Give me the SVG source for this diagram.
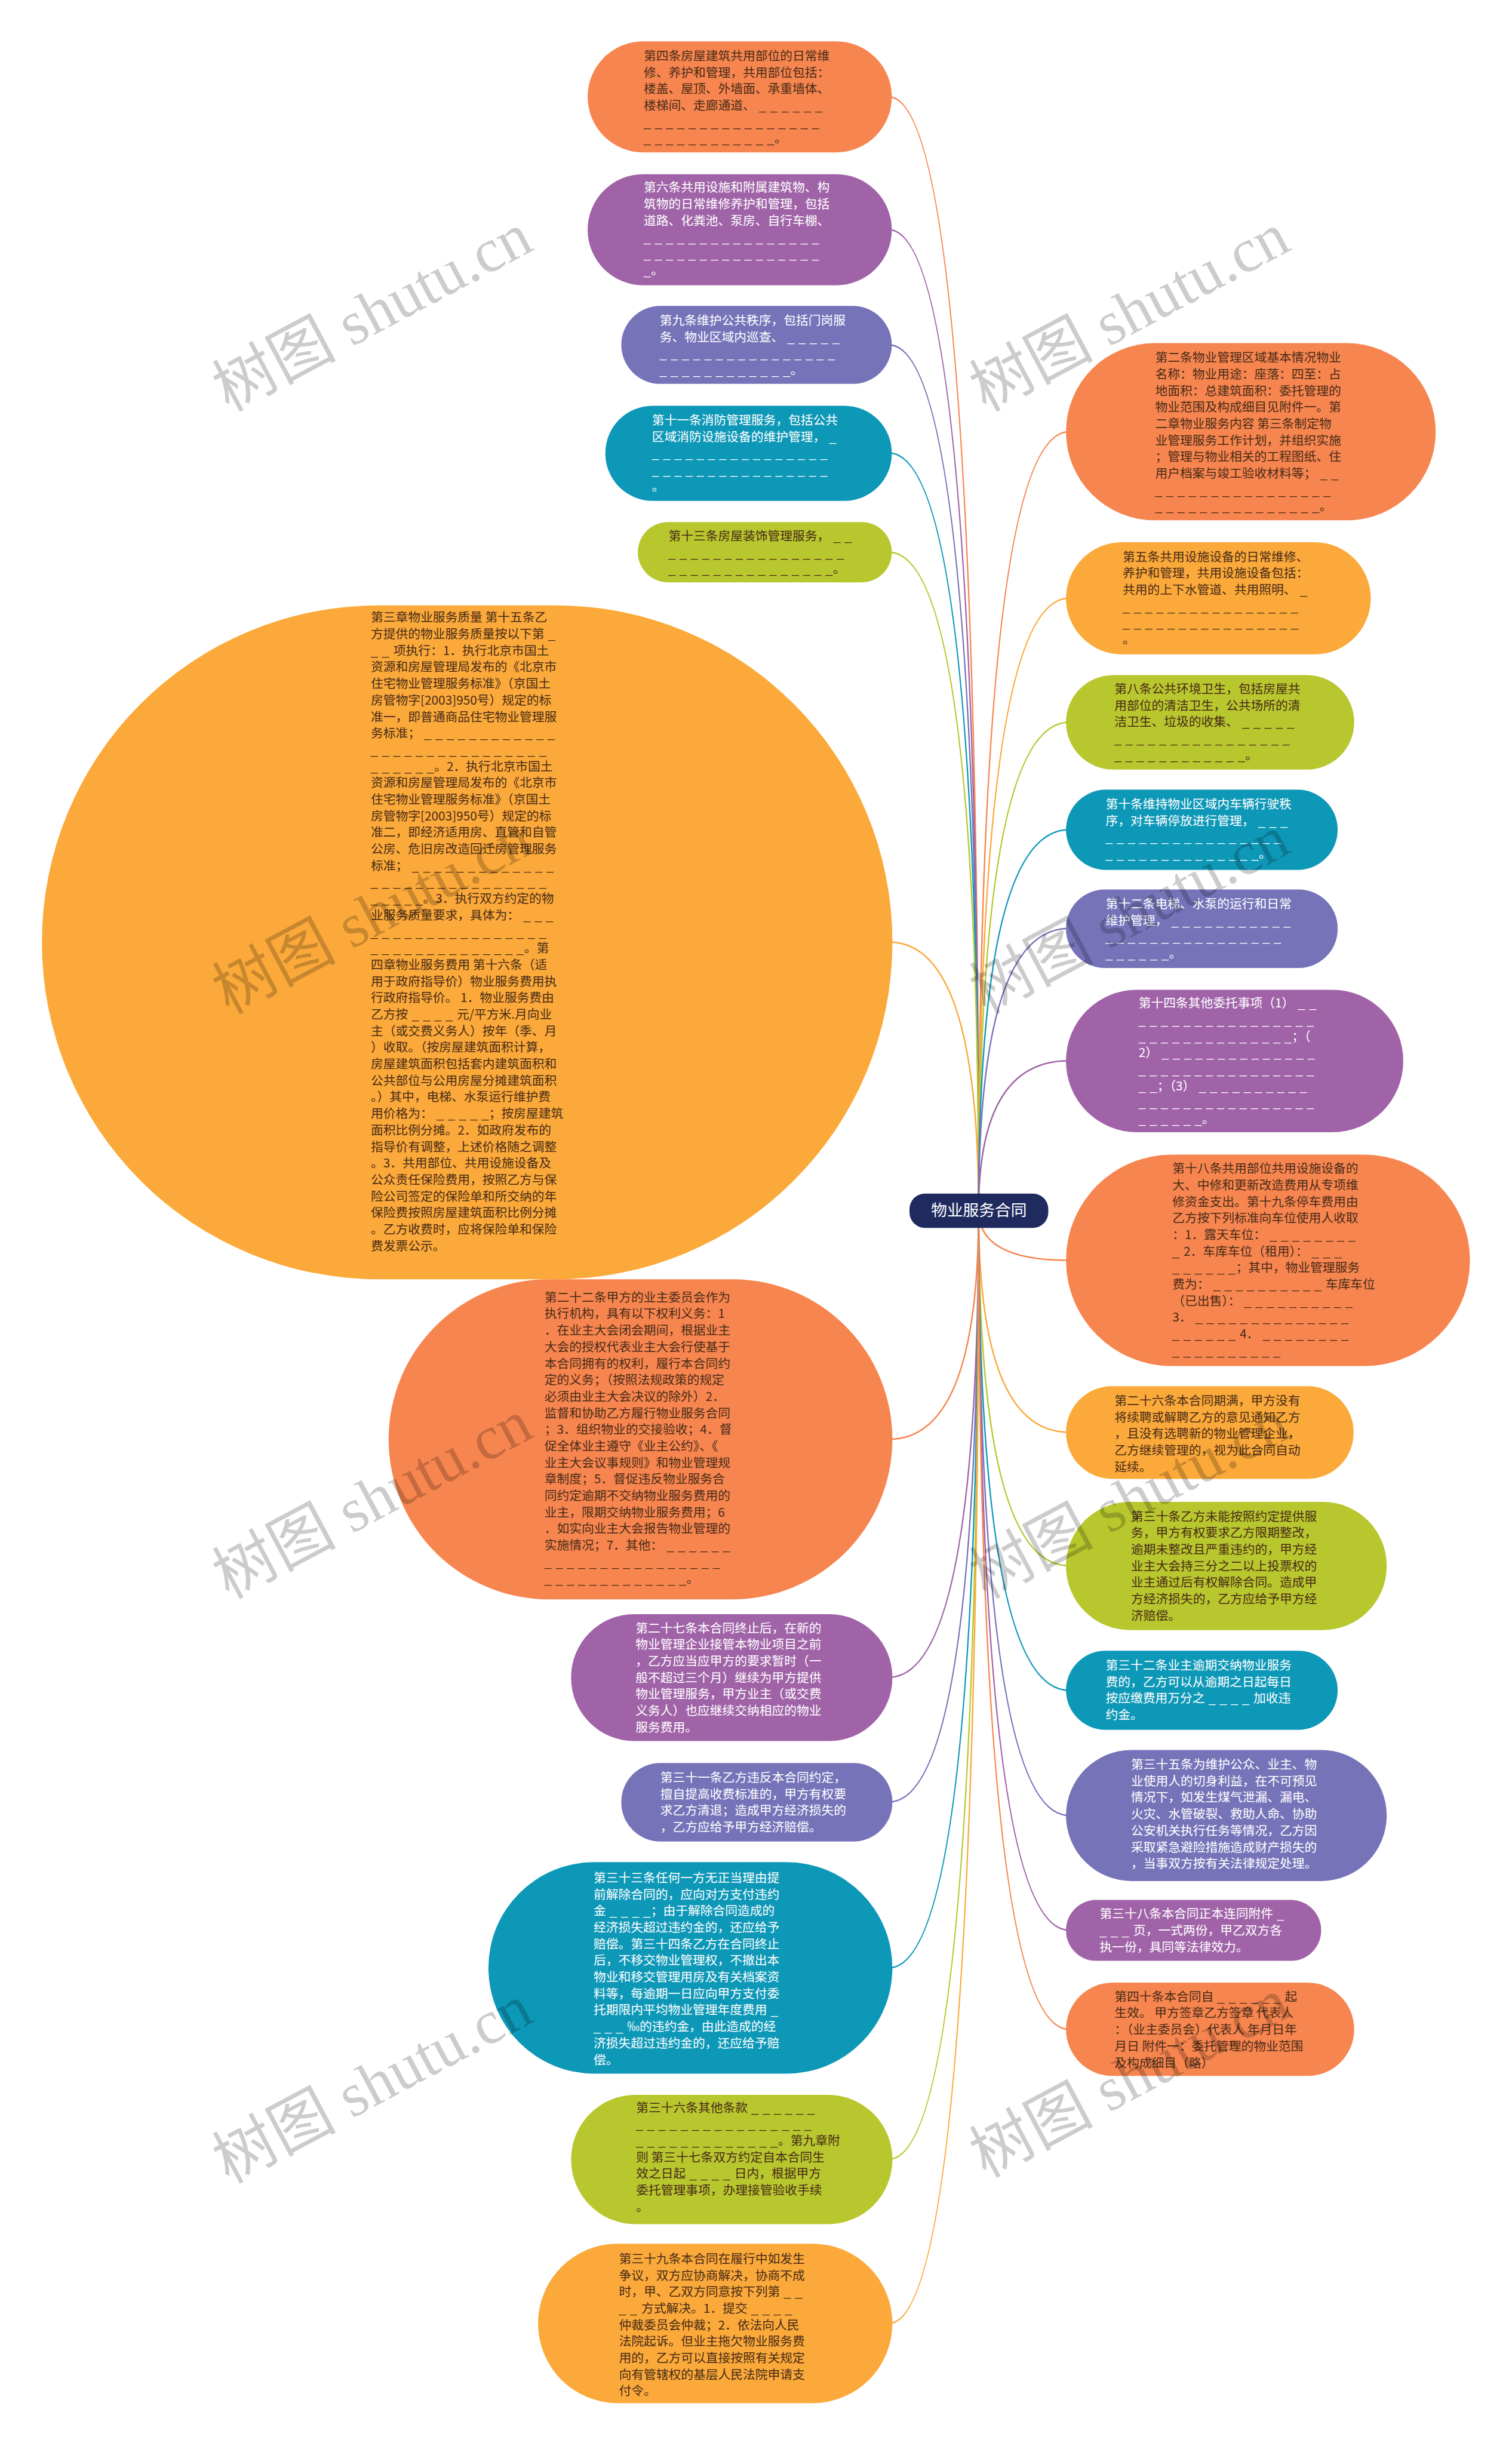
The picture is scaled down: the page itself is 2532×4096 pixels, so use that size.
<svg xmlns="http://www.w3.org/2000/svg" width="2532" height="4096" viewBox="0 0 2532 4096">
<style>
.t{font-family:"Noto Sans CJK SC","Noto Sans",sans-serif;font-size:21px}
.dk{fill:#4a2c17}
.wt{fill:#ffffff}
.d{font-family:"Liberation Sans",sans-serif;letter-spacing:0.75px}
.o{fill:#F7854F}
.p{fill:#A063A8}
.i{fill:#7673B9}
.c{fill:#0E98B8}
.l{fill:#B8C72E}
.y{fill:#FBA93A}
.k{fill:none;stroke-width:2.5}
.ko{stroke:#F7854F}.kp{stroke:#A063A8}.ki{stroke:#7673B9}.kc{stroke:#0E98B8}.kl{stroke:#B8C72E}.ky{stroke:#FBA93A}
</style>
<rect width="2532" height="4096" fill="#ffffff"/>
<g transform="scale(0.989)">
<g id="connectors">
<path class="k ko" d="M1657,2050 Q1657,164 1505,164"/>
<path class="k kp" d="M1657,2050 Q1657,389 1505,389"/>
<path class="k ki" d="M1657,2050 Q1657,584 1505,584"/>
<path class="k kc" d="M1657,2050 Q1657,767 1505,767"/>
<path class="k kl" d="M1657,2050 Q1657,935 1505,935"/>
<path class="k ky" d="M1657,2050 Q1657,1595 1505,1595"/>
<path class="k ko" d="M1657,2050 Q1657,2437 1505,2437"/>
<path class="k kp" d="M1657,2050 Q1657,2840 1505,2840"/>
<path class="k ki" d="M1657,2050 Q1657,3051 1505,3051"/>
<path class="k kc" d="M1657,2050 Q1657,3332 1505,3332"/>
<path class="k kl" d="M1657,2050 Q1657,3656 1505,3656"/>
<path class="k ky" d="M1657,2050 Q1657,3934 1505,3934"/>
<path class="k ko" d="M1657,2050 Q1657,731 1810,731"/>
<path class="k ky" d="M1657,2050 Q1657,1013 1810,1013"/>
<path class="k kl" d="M1657,2050 Q1657,1223 1810,1223"/>
<path class="k kc" d="M1657,2050 Q1657,1405 1810,1405"/>
<path class="k ki" d="M1657,2050 Q1657,1572 1810,1572"/>
<path class="k kp" d="M1657,2050 Q1657,1796 1810,1796"/>
<path class="k ko" d="M1657,2050 Q1657,2134 1810,2134"/>
<path class="k ky" d="M1657,2050 Q1657,2425 1810,2425"/>
<path class="k kl" d="M1657,2050 Q1657,2651 1810,2651"/>
<path class="k kc" d="M1657,2050 Q1657,2862 1810,2862"/>
<path class="k ki" d="M1657,2050 Q1657,3074 1810,3074"/>
<path class="k kp" d="M1657,2050 Q1657,3268 1810,3268"/>
<path class="k ko" d="M1657,2050 Q1657,3436 1810,3436"/>
</g>

<g id="L1">
<rect class="o" x="995" y="70" width="515" height="188" rx="94"/>
<text class="t dk"><tspan x="1090" y="102">第四条房屋建筑共用部位的日常维</tspan><tspan x="1090" dy="28">修、养护和管理，共用部位包括：</tspan><tspan x="1090" dy="28">楼盖、屋顶、外墙面、承重墙体、</tspan><tspan x="1090" dy="28">楼梯间、走廊通道、<tspan class="d"> _ _ _ _ _ _</tspan></tspan><tspan x="1090" dy="28" class="d">_ _ _ _ _ _ _ _ _ _ _ _ _ _ _ _</tspan><tspan x="1090" dy="28"><tspan class="d">_ _ _ _ _ _ _ _ _ _ _ _</tspan>。</tspan></text>
</g>

<g id="L2">
<rect class="p" x="995" y="295" width="515" height="188" rx="94"/>
<text class="t wt"><tspan x="1090" y="325">第六条共用设施和附属建筑物、构</tspan><tspan x="1090" dy="28">筑物的日常维修养护和管理，包括</tspan><tspan x="1090" dy="28">道路、化粪池、泵房、自行车棚、</tspan><tspan x="1090" dy="28" class="d">_ _ _ _ _ _ _ _ _ _ _ _ _ _ _ _</tspan><tspan x="1090" dy="28" class="d">_ _ _ _ _ _ _ _ _ _ _ _ _ _ _ _</tspan><tspan x="1090" dy="28"><tspan class="d">_</tspan>。</tspan></text>
</g>

<g id="L3">
<rect class="i" x="1052" y="518" width="458" height="132" rx="66"/>
<text class="t wt"><tspan x="1117" y="550">第九条维护公共秩序，包括门岗服</tspan><tspan x="1117" dy="28">务、物业区域内巡查、<tspan class="d"> _ _ _ _ _</tspan></tspan><tspan x="1117" dy="28" class="d">_ _ _ _ _ _ _ _ _ _ _ _ _ _ _ _</tspan><tspan x="1117" dy="28"><tspan class="d">_ _ _ _ _ _ _ _ _ _ _ _</tspan>。</tspan></text>
</g>

<g id="L4">
<rect class="c" x="1025" y="687" width="485" height="161" rx="80"/>
<text class="t wt"><tspan x="1104" y="719">第十一条消防管理服务，包括公共</tspan><tspan x="1104" dy="28">区域消防设施设备的维护管理，<tspan class="d"> _</tspan></tspan><tspan x="1104" dy="28" class="d">_ _ _ _ _ _ _ _ _ _ _ _ _ _ _ _</tspan><tspan x="1104" dy="28" class="d">_ _ _ _ _ _ _ _ _ _ _ _ _ _ _ _</tspan><tspan x="1104" dy="28">。</tspan></text>
</g>

<g id="L5">
<rect class="l" x="1080" y="884" width="430" height="102" rx="51"/>
<text class="t dk"><tspan x="1132" y="915">第十三条房屋装饰管理服务，<tspan class="d"> _ _</tspan></tspan><tspan x="1132" dy="28" class="d">_ _ _ _ _ _ _ _ _ _ _ _ _ _ _ _</tspan><tspan x="1132" dy="28"><tspan class="d">_ _ _ _ _ _ _ _ _ _ _ _ _ _ _</tspan>。</tspan></text>
</g>

<g id="L6">
<rect class="y" x="71" y="1025" width="1440" height="1141" rx="570"/>
<text class="t dk"><tspan x="628" y="1053">第三章物业服务质量 第十五条乙</tspan><tspan x="628" dy="28">方提供的物业服务质量按以下第<tspan class="d"> _</tspan></tspan><tspan x="628" dy="28"><tspan class="d">_ _ </tspan>项执行：1．执行北京市国土</tspan><tspan x="628" dy="28">资源和房屋管理局发布的《北京市</tspan><tspan x="628" dy="28">住宅物业管理服务标准》（京国土</tspan><tspan x="628" dy="28">房管物字[2003]950号）规定的标</tspan><tspan x="628" dy="28">准一，即普通商品住宅物业管理服</tspan><tspan x="628" dy="28">务标准；<tspan class="d"> _ _ _ _ _ _ _ _ _ _ _ _</tspan></tspan><tspan x="628" dy="28" class="d">_ _ _ _ _ _ _ _ _ _ _ _ _ _ _ _</tspan><tspan x="628" dy="28"><tspan class="d">_ _ _ _ _ _</tspan>。2．执行北京市国土</tspan><tspan x="628" dy="28">资源和房屋管理局发布的《北京市</tspan><tspan x="628" dy="28">住宅物业管理服务标准》（京国土</tspan><tspan x="628" dy="28">房管物字[2003]950号）规定的标</tspan><tspan x="628" dy="28">准二，即经济适用房、直管和自管</tspan><tspan x="628" dy="28">公房、危旧房改造回迁房管理服务</tspan><tspan x="628" dy="28">标准；<tspan class="d"> _ _ _ _ _ _ _ _ _ _ _ _ _</tspan></tspan><tspan x="628" dy="28" class="d">_ _ _ _ _ _ _ _ _ _ _ _ _ _ _ _</tspan><tspan x="628" dy="28"><tspan class="d">_ _ _ _ _</tspan>。3．执行双方约定的物</tspan><tspan x="628" dy="28">业服务质量要求，具体为：<tspan class="d"> _ _ _</tspan></tspan><tspan x="628" dy="28" class="d">_ _ _ _ _ _ _ _ _ _ _ _ _ _ _ _</tspan><tspan x="628" dy="28"><tspan class="d">_ _ _ _ _ _ _ _ _ _ _ _ _ _</tspan>。第</tspan><tspan x="628" dy="28">四章物业服务费用 第十六条（适</tspan><tspan x="628" dy="28">用于政府指导价）物业服务费用执</tspan><tspan x="628" dy="28">行政府指导价。 1．物业服务费由</tspan><tspan x="628" dy="28">乙方按<tspan class="d"> _ _ _ _ </tspan>元/平方米.月向业</tspan><tspan x="628" dy="28">主（或交费义务人）按年（季、月</tspan><tspan x="628" dy="28">）收取。（按房屋建筑面积计算，</tspan><tspan x="628" dy="28">房屋建筑面积包括套内建筑面积和</tspan><tspan x="628" dy="28">公共部位与公用房屋分摊建筑面积</tspan><tspan x="628" dy="28">。）其中，电梯、水泵运行维护费</tspan><tspan x="628" dy="28">用价格为：<tspan class="d"> _ _ _ _ _</tspan>；按房屋建筑</tspan><tspan x="628" dy="28">面积比例分摊。2．如政府发布的</tspan><tspan x="628" dy="28">指导价有调整，上述价格随之调整</tspan><tspan x="628" dy="28">。3．共用部位、共用设施设备及</tspan><tspan x="628" dy="28">公众责任保险费用，按照乙方与保</tspan><tspan x="628" dy="28">险公司签定的保险单和所交纳的年</tspan><tspan x="628" dy="28">保险费按照房屋建筑面积比例分摊</tspan><tspan x="628" dy="28">。乙方收费时，应将保险单和保险</tspan><tspan x="628" dy="28">费发票公示。</tspan></text>
</g>

<g id="L7">
<rect class="o" x="658" y="2166" width="853" height="542" rx="271"/>
<text class="t dk"><tspan x="922" y="2204">第二十二条甲方的业主委员会作为</tspan><tspan x="922" dy="28">执行机构，具有以下权利义务：1</tspan><tspan x="922" dy="28">．在业主大会闭会期间，根据业主</tspan><tspan x="922" dy="28">大会的授权代表业主大会行使基于</tspan><tspan x="922" dy="28">本合同拥有的权利，履行本合同约</tspan><tspan x="922" dy="28">定的义务；（按照法规政策的规定</tspan><tspan x="922" dy="28">必须由业主大会决议的除外）2．</tspan><tspan x="922" dy="28">监督和协助乙方履行物业服务合同</tspan><tspan x="922" dy="28">；3．组织物业的交接验收；4．督</tspan><tspan x="922" dy="28">促全体业主遵守《业主公约》、《</tspan><tspan x="922" dy="28">业主大会议事规则》和物业管理规</tspan><tspan x="922" dy="28">章制度；5．督促违反物业服务合</tspan><tspan x="922" dy="28">同约定逾期不交纳物业服务费用的</tspan><tspan x="922" dy="28">业主，限期交纳物业服务费用；6</tspan><tspan x="922" dy="28">．如实向业主大会报告物业管理的</tspan><tspan x="922" dy="28">实施情况；7．其他：<tspan class="d"> _ _ _ _ _ _</tspan></tspan><tspan x="922" dy="28" class="d">_ _ _ _ _ _ _ _ _ _ _ _ _ _ _ _</tspan><tspan x="922" dy="28"><tspan class="d">_ _ _ _ _ _ _ _ _ _ _ _ _</tspan>。</tspan></text>
</g>

<g id="L8">
<rect class="p" x="967" y="2733" width="544" height="215" rx="107"/>
<text class="t wt"><tspan x="1076" y="2764">第二十七条本合同终止后，在新的</tspan><tspan x="1076" dy="28">物业管理企业接管本物业项目之前</tspan><tspan x="1076" dy="28">，乙方应当应甲方的要求暂时（一</tspan><tspan x="1076" dy="28">般不超过三个月）继续为甲方提供</tspan><tspan x="1076" dy="28">物业管理服务，甲方业主（或交费</tspan><tspan x="1076" dy="28">义务人）也应继续交纳相应的物业</tspan><tspan x="1076" dy="28">服务费用。</tspan></text>
</g>

<g id="L9">
<rect class="i" x="1052" y="2985" width="459" height="133" rx="66"/>
<text class="t wt"><tspan x="1118" y="3017">第三十一条乙方违反本合同约定，</tspan><tspan x="1118" dy="28">擅自提高收费标准的，甲方有权要</tspan><tspan x="1118" dy="28">求乙方清退；造成甲方经济损失的</tspan><tspan x="1118" dy="28">，乙方应给予甲方经济赔偿。</tspan></text>
</g>

<g id="L10">
<rect class="c" x="827" y="3153" width="684" height="358" rx="179"/>
<text class="t wt"><tspan x="1005" y="3187">第三十三条任何一方无正当理由提</tspan><tspan x="1005" dy="28">前解除合同的，应向对方支付违约</tspan><tspan x="1005" dy="28">金<tspan class="d"> _ _ _ _</tspan>；由于解除合同造成的</tspan><tspan x="1005" dy="28">经济损失超过违约金的，还应给予</tspan><tspan x="1005" dy="28">赔偿。第三十四条乙方在合同终止</tspan><tspan x="1005" dy="28">后，不移交物业管理权，不撤出本</tspan><tspan x="1005" dy="28">物业和移交管理用房及有关档案资</tspan><tspan x="1005" dy="28">料等，每逾期一日应向甲方支付委</tspan><tspan x="1005" dy="28">托期限内平均物业管理年度费用<tspan class="d"> _</tspan></tspan><tspan x="1005" dy="28"><tspan class="d">_ _ _ </tspan>‰的违约金，由此造成的经</tspan><tspan x="1005" dy="28">济损失超过违约金的，还应给予赔</tspan><tspan x="1005" dy="28">偿。</tspan></text>
</g>

<g id="L11">
<rect class="l" x="967" y="3547" width="544" height="219" rx="109"/>
<text class="t dk"><tspan x="1077" y="3576">第三十六条其他条款<tspan class="d"> _ _ _ _ _ _</tspan></tspan><tspan x="1077" dy="28" class="d">_ _ _ _ _ _ _ _ _ _ _ _ _ _ _ _</tspan><tspan x="1077" dy="28"><tspan class="d">_ _ _ _ _ _ _ _ _ _ _ _ _</tspan>。第九章附</tspan><tspan x="1077" dy="28">则 第三十七条双方约定自本合同生</tspan><tspan x="1077" dy="28">效之日起<tspan class="d"> _ _ _ _ </tspan>日内，根据甲方</tspan><tspan x="1077" dy="28">委托管理事项，办理接管验收手续</tspan><tspan x="1077" dy="28">。</tspan></text>
</g>

<g id="L12">
<rect class="y" x="911" y="3799" width="600" height="270" rx="135"/>
<text class="t dk"><tspan x="1048" y="3832">第三十九条本合同在履行中如发生</tspan><tspan x="1048" dy="28">争议，双方应协商解决，协商不成</tspan><tspan x="1048" dy="28">时，甲、乙双方同意按下列第<tspan class="d"> _ _</tspan></tspan><tspan x="1048" dy="28"><tspan class="d">_ _ </tspan>方式解决。1．提交<tspan class="d"> _ _ _ _</tspan></tspan><tspan x="1048" dy="28">仲裁委员会仲裁；2．依法向人民</tspan><tspan x="1048" dy="28">法院起诉。但业主拖欠物业服务费</tspan><tspan x="1048" dy="28">用的，乙方可以直接按照有关规定</tspan><tspan x="1048" dy="28">向有管辖权的基层人民法院申请支</tspan><tspan x="1048" dy="28">付令。</tspan></text>
</g>

<g id="R1">
<rect class="o" x="1805" y="581" width="626" height="300" rx="150"/>
<text class="t dk"><tspan x="1956" y="613">第二条物业管理区域基本情况物业</tspan><tspan x="1956" dy="28">名称：物业用途：座落：四至：占</tspan><tspan x="1956" dy="28">地面积：总建筑面积：委托管理的</tspan><tspan x="1956" dy="28">物业范围及构成细目见附件一。第</tspan><tspan x="1956" dy="28">二章物业服务内容 第三条制定物</tspan><tspan x="1956" dy="28">业管理服务工作计划，并组织实施</tspan><tspan x="1956" dy="28">；管理与物业相关的工程图纸、住</tspan><tspan x="1956" dy="28">用户档案与竣工验收材料等；<tspan class="d"> _ _</tspan></tspan><tspan x="1956" dy="28" class="d">_ _ _ _ _ _ _ _ _ _ _ _ _ _ _ _</tspan><tspan x="1956" dy="28"><tspan class="d">_ _ _ _ _ _ _ _ _ _ _ _ _ _ _</tspan>。</tspan></text>
</g>

<g id="R2">
<rect class="y" x="1805" y="918" width="516" height="190" rx="95"/>
<text class="t dk"><tspan x="1901" y="950">第五条共用设施设备的日常维修、</tspan><tspan x="1901" dy="28">养护和管理，共用设施设备包括：</tspan><tspan x="1901" dy="28">共用的上下水管道、共用照明、<tspan class="d"> _</tspan></tspan><tspan x="1901" dy="28" class="d">_ _ _ _ _ _ _ _ _ _ _ _ _ _ _ _</tspan><tspan x="1901" dy="28" class="d">_ _ _ _ _ _ _ _ _ _ _ _ _ _ _ _</tspan><tspan x="1901" dy="28">。</tspan></text>
</g>

<g id="R3">
<rect class="l" x="1805" y="1143" width="488" height="160" rx="80"/>
<text class="t dk"><tspan x="1887" y="1174">第八条公共环境卫生，包括房屋共</tspan><tspan x="1887" dy="28">用部位的清洁卫生，公共场所的清</tspan><tspan x="1887" dy="28">洁卫生、垃圾的收集、<tspan class="d"> _ _ _ _ _</tspan></tspan><tspan x="1887" dy="28" class="d">_ _ _ _ _ _ _ _ _ _ _ _ _ _ _ _</tspan><tspan x="1887" dy="28"><tspan class="d">_ _ _ _ _ _ _ _ _ _ _ _</tspan>。</tspan></text>
</g>

<g id="R4">
<rect class="c" x="1805" y="1337" width="460" height="136" rx="68"/>
<text class="t wt"><tspan x="1872" y="1369">第十条维持物业区域内车辆行驶秩</tspan><tspan x="1872" dy="28">序，对车辆停放进行管理，<tspan class="d"> _ _ _</tspan></tspan><tspan x="1872" dy="28" class="d">_ _ _ _ _ _ _ _ _ _ _ _ _ _ _ _</tspan><tspan x="1872" dy="28"><tspan class="d">_ _ _ _ _ _ _ _ _ _ _ _ _ _</tspan>。</tspan></text>
</g>

<g id="R5">
<rect class="i" x="1805" y="1506" width="460" height="133" rx="66"/>
<text class="t wt"><tspan x="1872" y="1538">第十二条电梯、水泵的运行和日常</tspan><tspan x="1872" dy="28">维护管理，<tspan class="d"> _ _ _ _ _ _ _ _ _ _ _</tspan></tspan><tspan x="1872" dy="28" class="d">_ _ _ _ _ _ _ _ _ _ _ _ _ _ _ _</tspan><tspan x="1872" dy="28"><tspan class="d">_ _ _ _ _ _</tspan>。</tspan></text>
</g>

<g id="R6">
<rect class="p" x="1805" y="1676" width="571" height="241" rx="120"/>
<text class="t wt"><tspan x="1928" y="1706">第十四条其他委托事项（1）<tspan class="d"> _ _</tspan></tspan><tspan x="1928" dy="28" class="d">_ _ _ _ _ _ _ _ _ _ _ _ _ _ _ _</tspan><tspan x="1928" dy="28"><tspan class="d">_ _ _ _ _ _ _ _ _ _ _ _ _ _</tspan>；（</tspan><tspan x="1928" dy="28">2）<tspan class="d"> _ _ _ _ _ _ _ _ _ _ _ _ _ _</tspan></tspan><tspan x="1928" dy="28" class="d">_ _ _ _ _ _ _ _ _ _ _ _ _ _ _ _</tspan><tspan x="1928" dy="28"><tspan class="d">_ _</tspan>；（3）<tspan class="d"> _ _ _ _ _ _ _ _ _ _</tspan></tspan><tspan x="1928" dy="28" class="d">_ _ _ _ _ _ _ _ _ _ _ _ _ _ _ _</tspan><tspan x="1928" dy="28"><tspan class="d">_ _ _ _ _ _</tspan>。</tspan></text>
</g>

<g id="R7">
<rect class="o" x="1805" y="1955" width="684" height="358" rx="179"/>
<text class="t dk"><tspan x="1985" y="1986">第十八条共用部位共用设施设备的</tspan><tspan x="1985" dy="28">大、中修和更新改造费用从专项维</tspan><tspan x="1985" dy="28">修资金支出。第十九条停车费用由</tspan><tspan x="1985" dy="28">乙方按下列标准向车位使用人收取</tspan><tspan x="1985" dy="28">：1．露天车位：<tspan class="d"> _ _ _ _ _ _ _ _</tspan></tspan><tspan x="1985" dy="28"><tspan class="d">_ </tspan>2．车库车位（租用）：<tspan class="d"> _ _ _</tspan></tspan><tspan x="1985" dy="28"><tspan class="d">_ _ _ _ _ _</tspan>；其中，物业管理服务</tspan><tspan x="1985" dy="28">费为：<tspan class="d"> _ _ _ _ _ _ _ _ _ _ </tspan>车库车位</tspan><tspan x="1985" dy="28">（已出售）：<tspan class="d"> _ _ _ _ _ _ _ _ _ _</tspan></tspan><tspan x="1985" dy="28">3．<tspan class="d"> _ _ _ _ _ _ _ _ _ _ _ _ _ _</tspan></tspan><tspan x="1985" dy="28"><tspan class="d">_ _ _ _ _ _ </tspan>4．<tspan class="d"> _ _ _ _ _ _ _ _</tspan></tspan><tspan x="1985" dy="28" class="d">_ _ _ _ _ _ _ _ _ _</tspan></text>
</g>

<g id="R8">
<rect class="y" x="1805" y="2347" width="487" height="157" rx="78"/>
<text class="t dk"><tspan x="1887" y="2379">第二十六条本合同期满，甲方没有</tspan><tspan x="1887" dy="28">将续聘或解聘乙方的意见通知乙方</tspan><tspan x="1887" dy="28">，且没有选聘新的物业管理企业，</tspan><tspan x="1887" dy="28">乙方继续管理的，视为此合同自动</tspan><tspan x="1887" dy="28">延续。</tspan></text>
</g>

<g id="R9">
<rect class="l" x="1805" y="2543" width="543" height="217" rx="108"/>
<text class="t dk"><tspan x="1915" y="2575">第三十条乙方未能按照约定提供服</tspan><tspan x="1915" dy="28">务，甲方有权要求乙方限期整改，</tspan><tspan x="1915" dy="28">逾期未整改且严重违约的，甲方经</tspan><tspan x="1915" dy="28">业主大会持三分之二以上投票权的</tspan><tspan x="1915" dy="28">业主通过后有权解除合同。造成甲</tspan><tspan x="1915" dy="28">方经济损失的，乙方应给予甲方经</tspan><tspan x="1915" dy="28">济赔偿。</tspan></text>
</g>

<g id="R10">
<rect class="c" x="1805" y="2795" width="460" height="134" rx="67"/>
<text class="t wt"><tspan x="1872" y="2827">第三十二条业主逾期交纳物业服务</tspan><tspan x="1872" dy="28">费的，乙方可以从逾期之日起每日</tspan><tspan x="1872" dy="28">按应缴费用万分之<tspan class="d"> _ _ _ _ </tspan>加收违</tspan><tspan x="1872" dy="28">约金。</tspan></text>
</g>

<g id="R11">
<rect class="i" x="1805" y="2963" width="543" height="222" rx="111"/>
<text class="t wt"><tspan x="1915" y="2995">第三十五条为维护公众、业主、物</tspan><tspan x="1915" dy="28">业使用人的切身利益，在不可预见</tspan><tspan x="1915" dy="28">情况下，如发生煤气泄漏、漏电、</tspan><tspan x="1915" dy="28">火灾、水管破裂、救助人命、协助</tspan><tspan x="1915" dy="28">公安机关执行任务等情况，乙方因</tspan><tspan x="1915" dy="28">采取紧急避险措施造成财产损失的</tspan><tspan x="1915" dy="28">，当事双方按有关法律规定处理。</tspan></text>
</g>

<g id="R12">
<rect class="p" x="1805" y="3217" width="432" height="103" rx="51"/>
<text class="t wt"><tspan x="1862" y="3248">第三十八条本合同正本连同附件<tspan class="d"> _</tspan></tspan><tspan x="1862" dy="28"><tspan class="d">_ _ _ </tspan>页，一式两份，甲乙双方各</tspan><tspan x="1862" dy="28">执一份，具同等法律效力。</tspan></text>
</g>

<g id="R13">
<rect class="o" x="1805" y="3357" width="488" height="158" rx="79"/>
<text class="t dk"><tspan x="1887" y="3388">第四十条本合同自<tspan class="d"> _ _ _ _ _ _ </tspan>起</tspan><tspan x="1887" dy="28">生效。 甲方签章乙方签章 代表人</tspan><tspan x="1887" dy="28">：（业主委员会）代表人 年月日年</tspan><tspan x="1887" dy="28">月日 附件一：委托管理的物业范围</tspan><tspan x="1887" dy="28">及构成细目（略）</tspan></text>
</g>

<g id="center">
<rect x="1540" y="2021" width="235" height="58" rx="26" fill="#1F2B5F"/>
<text x="1657.5" y="2059" text-anchor="middle" font-family="Noto Sans CJK SC, Noto Sans, sans-serif" font-size="27" fill="#ffffff">物业服务合同</text>
</g>

<g id="watermark" fill="#000000" fill-opacity="0.2" font-family="Liberation Serif, Noto Sans CJK SC, serif" font-size="105" text-anchor="middle">
<text transform="translate(647,560) rotate(-28)">树图 shutu.cn</text>
<text transform="translate(1929,560) rotate(-28)">树图 shutu.cn</text>
<text transform="translate(647,1580) rotate(-28)">树图 shutu.cn</text>
<text transform="translate(1929,1580) rotate(-28)">树图 shutu.cn</text>
<text transform="translate(647,2570) rotate(-28)">树图 shutu.cn</text>
<text transform="translate(1929,2570) rotate(-28)">树图 shutu.cn</text>
<text transform="translate(647,3560) rotate(-28)">树图 shutu.cn</text>
<text transform="translate(1929,3550) rotate(-28)">树图 shutu.cn</text>
</g>
</g>
</svg>
